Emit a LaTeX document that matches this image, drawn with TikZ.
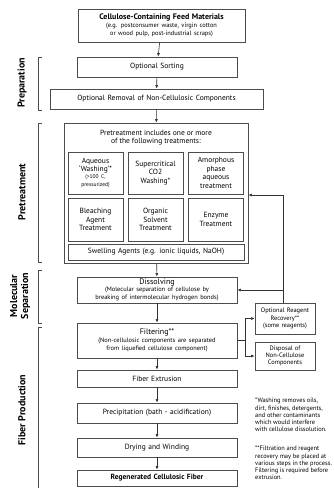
\documentclass[tikz,border=0pt]{standalone}
\usepackage{fontspec}
\setmainfont{PT Sans}
\usetikzlibrary{calc,arrows.meta}

\tikzset{
	stepbox/.style={draw=black!70, line width=0.8pt, align=center, inner sep=1pt,
		font=\fontsize{7.5}{8.5}\selectfont},
	subbox/.style={stepbox, minimum width=55pt, text width=53pt, minimum height=42pt},
	flow/.style={-{Latex[length=3.5pt,width=3pt]}, line width=0.6pt, black!80},
	phase/.style={rotate=90, align=center, font=\fontsize{10}{11}\selectfont\bfseries},
	bracket/.style={line width=0.8pt, black!70},
	note/.style={align=left, anchor=north west, inner sep=0pt, font=\fontsize{6.4}{7.3}\selectfont}
}
\newcommand{\smalltxt}{\fontsize{6.4}{7.2}\selectfont}

\begin{document}
\begin{tikzpicture}[x=1pt,y=-1pt]
	\useasboundingbox (0,0) rectangle (334,488);
	
	% main column
	\node[stepbox, minimum width=167pt, text width=165pt, minimum height=33pt] (feed) at (161.5,25.5)
	{{\fontsize{8}{9.5}\selectfont\bfseries Cellulose-Containing Feed Materials}\\{\smalltxt(e.g. postconsumer waste, virgin cotton\\or wood pulp, post-industrial scraps)}};
	\node[stepbox, minimum width=160pt, text width=158pt, minimum height=20pt] (sort) at (157,67) {Optional Sorting};
	\node[stepbox, minimum width=213pt, text width=211pt, minimum height=20pt] (removal) at (156.5,99) {Optional Removal of Non-Cellulosic Components};
	
	% pretreatment block
	\node[stepbox, minimum width=184pt, minimum height=140pt] (pre) at (156,193) {};
	\node[align=center, font=\fontsize{7.5}{8.5}\selectfont, inner sep=0pt] (prehead) at (156,137.5)
	{Pretreatment includes one or more\\of the following treatments:};
	\node[subbox] (aqueous) at (95.5,173) {Aqueous\\`Washing'*\\{\fontsize{5.5}{6.5}\selectfont(>100 C,\\pressurized)}};
	\node[subbox] (co2) at (155.5,173) {Supercritical\\CO2\\Washing*};
	\node[subbox] (amorph) at (216,173) {Amorphous\\phase\\aqueous\\treatment};
	\node[subbox, minimum height=43pt] (bleach) at (95.5,219.5) {Bleaching\\Agent\\Treatment};
	\node[subbox, minimum height=43pt] (organic) at (155.5,219.5) {Organic\\Solvent\\Treatment};
	\node[subbox, minimum height=43pt] (enzyme) at (216,219.5) {Enzyme\\Treatment};
	\node[stepbox, minimum width=176pt, text width=174pt, minimum height=16pt] (swell) at (156,252) {Swelling Agents (e.g. ionic liquids, NaOH)};
	
	\node[stepbox, minimum width=160pt, text width=158pt, minimum height=26pt] (dissolve) at (157,290)
	{{\fontsize{8}{9}\selectfont Dissolving}\\{\smalltxt(Molecular separation of cellulose by\\breaking of intermolecular hydrogen bonds)}};
	\node[stepbox, minimum width=160pt, text width=158pt, minimum height=35pt] (filter) at (157,340.5)
	{{\fontsize{8}{10}\selectfont Filtering**}\\{\smalltxt(Non-cellulosic components are separated\\from liquefied cellulose component)}};
	\node[stepbox, minimum width=160pt, text width=158pt, minimum height=17pt] (extrude) at (157,378.5) {Fiber Extrusion};
	\node[stepbox, minimum width=160pt, text width=158pt, minimum height=20pt] (precip) at (157,413) {Precipitation (bath - acidification)};
	\node[stepbox, minimum width=160pt, text width=158pt, minimum height=19pt] (drying) at (157,447.5) {Drying and Winding};
	\node[stepbox, minimum width=160pt, text width=158pt, minimum height=16pt, font=\fontsize{7.5}{8.5}\selectfont\bfseries] (regen) at (157,478) {Regenerated Cellulosic Fiber};
	
	% side boxes
	\node[stepbox, minimum width=60pt, text width=58pt, minimum height=31pt, font=\smalltxt] (recovery) at (285,318.5)
	{Optional Reagent\\Recovery**\\(some reagents)};
	\node[stepbox, minimum width=60pt, text width=58pt, minimum height=28pt, font=\smalltxt] (disposal) at (285,356)
	{Disposal of\\Non-Cellulose\\Components};
	
	% arrows
	\draw[flow] (feed) -- (sort);
	\draw[flow] (sort) -- (removal);
	\draw[flow] (removal) -- (pre);
	\draw[flow] (pre) -- (dissolve);
	\draw[flow] (dissolve) -- (filter);
	\draw[flow] (filter) -- (extrude);
	\draw[flow] (extrude) -- (precip);
	\draw[flow] (precip) -- (drying);
	\draw[flow] (drying) -- (regen);
	
	\coordinate (fork) at (245,340.5);
	\draw[line width=0.6pt, black!80] (filter.east) -- (fork);
	\draw[flow] (fork) |- (recovery.west);
	\draw[flow] (fork) |- (disposal.west);
	
	\coordinate (back) at (283,195);
	\draw[flow] (recovery.north -| back) -- (back) -- (back -| pre.east);
	\draw[flow] (back |- dissolve.east) -- (dissolve.east);
	
	% phase brackets
	\draw[bracket] (42,57) -- (38,57) -- (38,110) -- (42,110);
	\node[phase] (lprep) at (22,83) {Preparation};
	\draw[bracket] (42,123) -- (38,123) -- (38,262) -- (42,262);
	\node[phase] (lpre) at (22,192) {Pretreatment};
	\draw[bracket] (42,270) -- (38,270) -- (38,323) -- (42,323);
	\node[phase] (lmol) at (20,296) {Molecular\\Separation};
	\draw[bracket] (42,327) -- (38,327) -- (38,488);
	\node[phase] (lfib) at (22,410) {Fiber Production};
	
	% footnotes
	\node[note] (note1) at (255,398) {*Washing removes oils,\\dirt, finishes, detergents,\\and other contaminants\\which would interfere\\with cellulose dissolution.};
	\node[note] (note2) at (255,446) {**Filtration and reagent\\recovery may be placed at\\various steps in the process.\\Filtering is required before\\extrusion.};
\end{tikzpicture}
\end{document}
